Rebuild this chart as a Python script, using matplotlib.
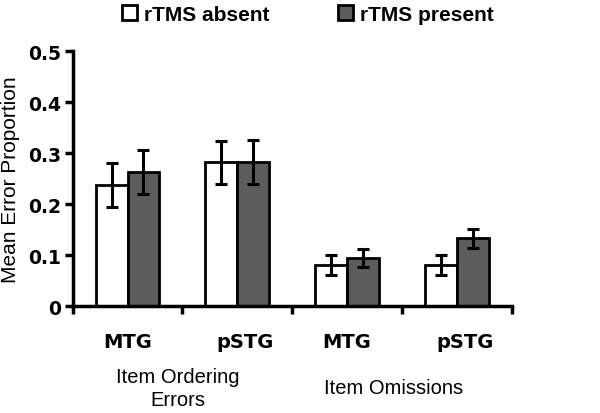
import numpy as np
import matplotlib.pyplot as plt
from matplotlib.patches import Patch

plt.rcParams['font.family'] = ['Liberation Sans', 'DejaVu Sans']

regions = ["MTG", "pSTG", "MTG", "pSTG"]
error_types = ["Item Ordering\nErrors", "Item Omissions"]
absent = [0.238, 0.282, 0.081, 0.081]
absent_err = [0.043, 0.042, 0.019, 0.019]
present = [0.263, 0.283, 0.094, 0.133]
present_err = [0.043, 0.043, 0.018, 0.018]

fig = plt.figure(figsize=(6, 4.14), dpi=100)
ax = fig.add_axes([0.121, 0.258, 0.732, 0.616])

x = np.arange(len(regions)) + 0.5
w = 0.29
ekw = dict(elinewidth=2.2, capthick=2.2)
ax.bar(x - w/2, absent, w, yerr=absent_err, color="white", edgecolor="black",
       linewidth=2, capsize=4, error_kw=ekw, zorder=2)
ax.bar(x + w/2, present, w, yerr=present_err, color="#5c5c5c", edgecolor="black",
       linewidth=2, capsize=4, error_kw=ekw, zorder=2)

ax.set_xlim(0, 4)
ax.set_ylim(0, 0.5)
ax.set_xticks(np.arange(5))
ax.set_xticklabels([])
ax.set_yticks([0, 0.1, 0.2, 0.3, 0.4, 0.5])
ax.set_yticklabels(["0", "0.1", "0.2", "0.3", "0.4", "0.5"], fontweight="heavy",
                   fontsize=13.5, family="DejaVu Sans")
ax.tick_params(axis="both", width=2.5, length=6, direction="out", pad=2)
for s in ["top", "right"]:
    ax.spines[s].set_visible(False)
for s in ["left", "bottom"]:
    ax.spines[s].set_linewidth(2.5)

ax.set_ylabel("Mean Error Proportion", fontsize=15, labelpad=6)

for xi, r in zip(x, regions):
    ax.text(xi + (0.07 if r == "pSTG" else 0), -0.07, r, ha="center", va="center",
            fontsize=14, fontweight="heavy", family="DejaVu Sans")
ax.text(0.96, -0.16, error_types[0], ha="center", va="center", fontsize=14.5, linespacing=1.3)
ax.text(2.92, -0.16, error_types[1], ha="center", va="center", fontsize=14.5)

handles = [Patch(facecolor="white", edgecolor="black", linewidth=2),
           Patch(facecolor="#5c5c5c", edgecolor="black", linewidth=2)]
leg = fig.legend(handles, ["rTMS absent", "rTMS present"], loc="center", ncol=2,
                 bbox_to_anchor=(0.5125, 0.963), frameon=False, handlelength=0.75,
                 handleheight=0.75, handletextpad=0.3, columnspacing=3.3,
                 prop={"weight": "bold", "size": 15})

fig.savefig("out.png", dpi=100)
